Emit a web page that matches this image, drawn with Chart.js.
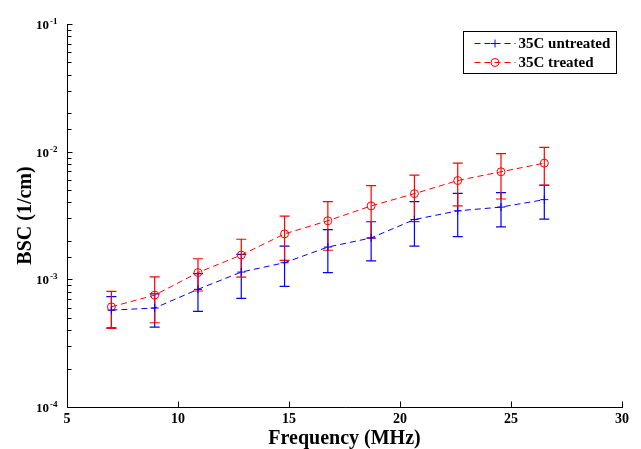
<!DOCTYPE html>
<html lang="en">
<head>
<meta charset="UTF-8">
<title>BSC vs Frequency</title>
<script src="https://cdn.jsdelivr.net/npm/chart.js"></script>
<style>
  body { margin: 0; background: #fff; }
  #wrap { width: 641px; height: 449px; }
</style>
</head>
<body>
<div id="wrap"><canvas id="bsc" width="641" height="449"></canvas></div>
<script>
// frequencies (MHz)
const freq = [7, 8.95, 10.9, 12.85, 14.8, 16.75, 18.7, 20.65, 22.6, 24.55, 26.5];

// backscatter coefficient (1/cm) with +/- error
const untreated    = [5.74e-4, 5.96e-4, 8.35e-4, 1.14e-3, 1.35e-3, 1.79e-3, 2.11e-3, 2.94e-3, 3.44e-3, 3.68e-3, 4.21e-3];
const untreatedErr = [1.57e-4, 1.74e-4, 2.74e-4, 4.3e-4, 4.7e-4, 6.6e-4, 7.15e-4, 1.12e-3, 1.28e-3, 1.1e-3, 1.245e-3];
const treated      = [6.09e-4, 7.52e-4, 1.13e-3, 1.55e-3, 2.27e-3, 2.875e-3, 3.76e-3, 4.69e-3, 5.94e-3, 6.96e-3, 8.13e-3];
const treatedErr   = [1.96e-4, 2.95e-4, 3.2e-4, 5.1e-4, 8.6e-4, 1.185e-3, 1.66e-3, 1.86e-3, 2.18e-3, 2.7e-3, 2.67e-3];

const seriesNames = ['35C untreated', '35C treated'];
const seriesColors = ['#0000ff', '#ff0000'];
const serif = "'Liberation Serif', 'Times New Roman', serif";

function points(ys) {
    return freq.map((f, i) => ({ x: f, y: ys[i] }));
}

// error bars, inward ticks, y tick labels and the legend box
const extras = {
    id: 'extras',
    beforeDatasetsDraw(chart) {
        const ctx = chart.ctx;
        const xs = chart.scales.x, ys = chart.scales.y;
        chart.data.datasets.forEach((ds, k) => {
            ctx.save();
            ctx.strokeStyle = seriesColors[k];
            ctx.lineWidth = 1.2;
            ds.data.forEach((p, i) => {
                const e = ds.err[i];
                const px = xs.getPixelForValue(p.x);
                const top = ys.getPixelForValue(p.y + e);
                const bot = ys.getPixelForValue(p.y - e);
                ctx.beginPath();
                ctx.moveTo(px, top); ctx.lineTo(px, bot);
                ctx.moveTo(px - 5, top); ctx.lineTo(px + 5, top);
                ctx.moveTo(px - 5, bot); ctx.lineTo(px + 5, bot);
                ctx.stroke();
            });
            ctx.restore();
        });
    },
    afterDraw(chart) {
        const ctx = chart.ctx;
        const area = chart.chartArea;
        const xs = chart.scales.x, ys = chart.scales.y;
        const left = Math.round(area.left) + 0.5;
        const bottom = Math.round(area.bottom) + 0.5;

        ctx.save();
        ctx.strokeStyle = '#000';
        ctx.lineWidth = 1;
        // axis lines
        ctx.beginPath();
        ctx.moveTo(left, Math.round(area.top));
        ctx.lineTo(left, bottom);
        ctx.lineTo(Math.round(area.right) + 1, bottom);
        ctx.stroke();

        // x ticks pointing inward
        ctx.beginPath();
        xs.ticks.forEach(t => {
            const px = Math.round(xs.getPixelForValue(t.value)) + 0.5;
            ctx.moveTo(px, bottom);
            ctx.lineTo(px, bottom - 6);
        });
        ctx.stroke();

        // y ticks (log, major + minor) and 10^n labels
        ctx.fillStyle = '#000';
        ctx.beginPath();
        ys.ticks.forEach(t => {
            const e = Math.log10(t.value);
            const major = Math.abs(e - Math.round(e)) < 1e-6;
            const py = Math.round(ys.getPixelForValue(t.value)) + 0.5;
            ctx.moveTo(left, py);
            ctx.lineTo(left + (major ? 5 : 4), py);
            if (major) {
                ctx.font = 'bold 13px ' + serif;
                ctx.textAlign = 'right';
                ctx.textBaseline = 'middle';
                ctx.fillText('10', area.left - 18, py + 1);
                ctx.font = 'bold 9px ' + serif;
                ctx.textAlign = 'left';
                ctx.fillText(String(Math.round(e)), area.left - 17, py - 3);
            }
        });
        ctx.stroke();

        // legend
        const bx = Math.round(area.right) - 158.5, by = Math.round(area.top) + 7.5;
        const bw = 153, bh = 42;
        ctx.fillStyle = '#fff';
        ctx.fillRect(bx, by, bw, bh);
        ctx.strokeStyle = '#000';
        ctx.strokeRect(bx, by, bw, bh);
        chart.data.datasets.forEach((ds, i) => {
            const cy = Math.round(by + 11 + i * 19) + 0.5;
            const x0 = bx + 11, x1 = bx + 52;
            ctx.strokeStyle = seriesColors[i];
            ctx.setLineDash(ds.borderDash);
            ctx.beginPath();
            ctx.moveTo(x0, cy); ctx.lineTo(x1, cy);
            ctx.stroke();
            ctx.setLineDash([]);
            ctx.fillStyle = 'rgba(0,0,0,0)';
            Chart.helpers.drawPoint(ctx, {
                pointStyle: ds.pointStyle, radius: ds.pointRadius,
                rotation: 0, borderWidth: 1
            }, (x0 + x1) / 2, cy);
            ctx.fillStyle = '#000';
            ctx.font = 'bold 15px ' + serif;
            ctx.textAlign = 'left';
            ctx.textBaseline = 'middle';
            ctx.fillText(ds.label, x1 + 3, cy + 1);
        });
        ctx.restore();
    }
};

new Chart(document.getElementById('bsc').getContext('2d'), {
    type: 'line',
    data: {
        datasets: [{
            label: seriesNames[0],
            data: points(untreated),
            err: untreatedErr,
            borderColor: seriesColors[0],
            backgroundColor: 'rgba(0,0,0,0)',
            borderWidth: 1,
            borderDash: [6, 4],
            pointStyle: 'cross',
            pointRadius: 4,
            pointBorderWidth: 1
        }, {
            label: seriesNames[1],
            data: points(treated),
            err: treatedErr,
            borderColor: seriesColors[1],
            backgroundColor: 'rgba(0,0,0,0)',
            borderWidth: 1,
            borderDash: [6, 4],
            pointStyle: 'circle',
            pointRadius: 4,
            pointBorderWidth: 1
        }]
    },
    options: {
        responsive: false,
        animation: false,
        layout: { padding: { top: 24, right: 19, left: 0, bottom: 0 } },
        plugins: {
            legend: { display: false },
            tooltip: { enabled: false }
        },
        scales: {
            x: {
                type: 'linear',
                min: 5,
                max: 30,
                grid: { display: false, drawTicks: false },
                border: { display: false },
                ticks: {
                    stepSize: 5,
                    padding: 4,
                    color: '#000',
                    font: { family: serif, size: 14, weight: 'bold' }
                },
                title: {
                    display: true,
                    text: 'Frequency (MHz)',
                    color: '#000',
                    font: { family: serif, size: 20, weight: 'bold', lineHeight: 1 },
                    padding: { top: 0, bottom: 0 }
                },
                afterFit(scale) { scale.height = 42; }
            },
            y: {
                type: 'logarithmic',
                min: 1e-4,
                max: 1e-1,
                grid: { display: false, drawTicks: false },
                border: { display: false },
                ticks: { display: false, autoSkip: false },
                title: {
                    display: true,
                    text: 'BSC (1/cm)',
                    color: '#000',
                    font: { family: serif, size: 20, weight: 'bold', lineHeight: 1.2 },
                    padding: { top: 14, bottom: 0 }
                },
                afterFit(scale) { scale.width = 67; }
            }
        }
    },
    plugins: [extras]
});
</script>
</body>
</html>
